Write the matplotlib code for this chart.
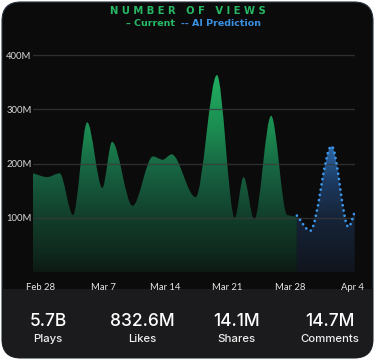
import numpy as np
import matplotlib
matplotlib.use("Agg")
import matplotlib.pyplot as plt
from matplotlib.path import Path
from matplotlib.patches import PathPatch, FancyBboxPatch, Rectangle
from matplotlib.colors import LinearSegmentedColormap

# days counted from Feb 28, values in millions of views
current_days = [-0.9, 0.7, 2.1, 3.6, 5.2, 6.9, 8.0, 10.3, 12.6, 13.7, 14.7,
                17.4, 19.8, 21.8, 22.8, 24.0, 25.9, 27.7, 28.8]
current_views = [182, 175, 182, 105, 276, 155, 240, 122, 213, 207, 217,
                 138, 363, 100, 175, 97, 288, 105, 102]

pred_days = [28.8, 30.3, 32.7, 34.6, 35.3]
pred_views = [104, 76, 232, 83, 110]

tick_days = [0, 7, 14, 21, 28, 35]
tick_labels = ["Feb 28", "Mar 7", "Mar 14", "Mar 21", "Mar 28", "Apr 4"]
y_ticks = [100, 200, 300, 400]

stat_values = ["5.7B", "832.6M", "14.1M", "14.7M"]
stat_names = ["Plays", "Likes", "Shares", "Comments"]


def tangents(x, y):
    # monotone (Fritsch-Carlson) slopes, so the curve never overshoots
    x = np.asarray(x, float)
    y = np.asarray(y, float)
    h = np.diff(x)
    d = np.diff(y) / h
    m = np.zeros_like(y)
    m[0], m[-1] = d[0], d[-1]
    for i in range(1, len(y) - 1):
        if d[i - 1] * d[i] > 0:
            w1 = 2 * h[i] + h[i - 1]
            w2 = h[i] + 2 * h[i - 1]
            m[i] = (w1 + w2) / (w1 / d[i - 1] + w2 / d[i])
    return m


def curve_verts(x, y):
    m = tangents(x, y)
    verts = [(x[0], y[0])]
    codes = [Path.MOVETO]
    for i in range(len(x) - 1):
        h = x[i + 1] - x[i]
        verts += [(x[i] + h / 3, y[i] + m[i] * h / 3),
                  (x[i + 1] - h / 3, y[i + 1] - m[i + 1] * h / 3),
                  (x[i + 1], y[i + 1])]
        codes += [Path.CURVE4] * 3
    return verts, codes


def area_path(x, y):
    verts, codes = curve_verts(x, y)
    verts = [(x[0], 0)] + verts + [(x[-1], 0), (x[0], 0)]
    codes = [Path.MOVETO, Path.LINETO] + codes[1:] + [Path.LINETO, Path.CLOSEPOLY]
    return Path(verts, codes)


W, H = 375, 359
fig = plt.figure(figsize=(W / 100, H / 100), dpi=100)
fig.patch.set_facecolor("white")

card = FancyBboxPatch((2 / W, 1 / H), 371 / W, 356 / H,
                      boxstyle="round,pad=0,rounding_size=0.05",
                      transform=fig.transFigure, facecolor="#0b0b0c",
                      edgecolor="#2a3442", linewidth=0.8, mutation_aspect=W / H,
                      zorder=-10)
fig.patches.append(card)
bottom = Rectangle((0, 0), 1, 70 / H, transform=fig.transFigure,
                   facecolor="#1b1b1d", edgecolor="none", zorder=-9)
bottom.set_clip_path(card)
fig.patches.append(bottom)

ax = fig.add_axes([33 / W, (H - 272) / H, 322 / W, (272 - 49.6) / H])
ax.set_facecolor("none")
ax.set_xlim(-0.9, 35.34)
ax.set_ylim(0, 410)
for s in ax.spines.values():
    s.set_visible(False)

green = LinearSegmentedColormap.from_list(
    "g", [(0, "#0d1a14"), (0.1, "#0f2a1e"), (0.27, "#123e2b"),
          (0.5, "#176241"), (0.7, "#1b8a50"), (1, "#22b062")])
blue = LinearSegmentedColormap.from_list(
    "b", [(0, "#11151d"), (0.27, "#162438"), (0.45, "#1c3a60"),
          (0.6, "#2962a0"), (1, "#3a8ae0")])
grad = np.linspace(0, 1, 256).reshape(-1, 1)

gpatch = PathPatch(area_path(current_days, current_views), facecolor="none",
                   edgecolor="none")
ax.add_patch(gpatch)
im = ax.imshow(grad, extent=(-0.9, 35.34, 0, 370), origin="lower",
               aspect="auto", cmap=green, zorder=1)
im.set_clip_path(gpatch)

bpatch = PathPatch(area_path(pred_days, pred_views), facecolor="none",
                   edgecolor="none")
ax.add_patch(bpatch)
im2 = ax.imshow(grad, extent=(-0.9, 35.34, 0, 370), origin="lower",
                aspect="auto", cmap=blue, zorder=1)
im2.set_clip_path(bpatch)

lv, lc = curve_verts(pred_days, pred_views)
line = PathPatch(Path(lv, lc), facecolor="none", edgecolor="#3d95e8",
                 linewidth=2.0, linestyle=(0, (0.01, 1.9)), zorder=3)
line.set_capstyle("round")
ax.add_patch(line)

for v in y_ticks:
    ax.axhline(v, color="#3a3a3c", linewidth=1, alpha=0.75, zorder=2)

ax.set_xticks(tick_days)
ax.set_xticklabels(tick_labels, family="Lato", fontsize=6.8, color="#e6e6e6")
ax.set_yticks(y_ticks)
ax.set_yticklabels([f"{v}M" for v in y_ticks], family="Lato", fontsize=6.8,
                   color="#d8d8d8")
ax.tick_params(length=0, pad=1)
ax.tick_params(axis="x", pad=8)

fig.text(187.5 / W, 1 - 11 / H, "N U M B E R   O F   V I E W S", ha="center",
         va="center", color="#27b864", fontsize=7.2, fontweight="bold")
fig.text(126 / W, 1 - 23 / H, "– Current", ha="left", va="center",
         color="#27b864", fontsize=6.8, fontweight="bold")
fig.text(181 / W, 1 - 23 / H, "-- AI Prediction", ha="left", va="center",
         color="#3a8fe0", fontsize=6.8, fontweight="bold")

stat_x = [48, 142, 236, 330]
for x, val, name in zip(stat_x, stat_values, stat_names):
    fig.text(x / W, 1 - 321 / H, val, ha="center", va="center", color="white",
             fontsize=12.5, family="Inter", fontweight="medium")
    fig.text(x / W, 1 - 339 / H, name, ha="center", va="center",
             color="#eeeeee", fontsize=8.2, family="Inter", fontweight="medium")

fig.savefig("out.png", dpi=100, facecolor=fig.get_facecolor())
